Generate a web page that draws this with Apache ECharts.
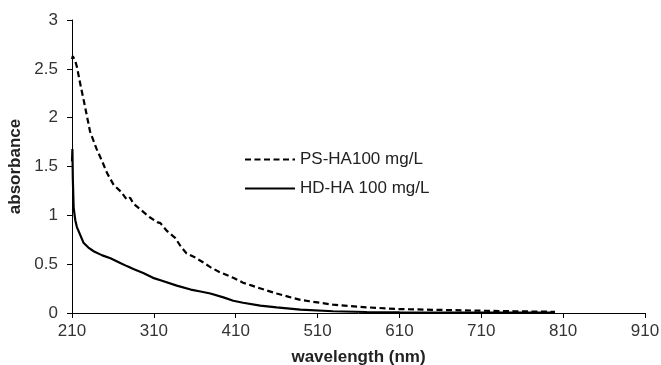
<!DOCTYPE html>
<html>
<head>
<meta charset="utf-8">
<script src="https://cdn.jsdelivr.net/npm/echarts@6/dist/echarts.min.js"></script>
<style>
  html, body { margin: 0; padding: 0; background: #fff; }
  #chart { width: 661px; height: 365px; }
</style>
</head>
<body>
<div id="chart"></div>
<script>
// wavelength (nm) and absorbance
var psWavelength = [210, 211, 214, 216, 220, 225, 232, 240, 247, 253, 261, 270, 277, 281, 285, 295, 305, 314, 318, 326, 336, 343, 350, 360, 370, 379, 390, 407, 419, 430, 448, 460, 475, 489, 500, 529, 550, 570, 610, 650, 700, 750, 800];
var psAbsorbance = [2.60, 2.63, 2.58, 2.52, 2.35, 2.15, 1.86, 1.68, 1.55, 1.43, 1.31, 1.24, 1.16, 1.18, 1.12, 1.05, 0.98, 0.93, 0.92, 0.84, 0.77, 0.68, 0.61, 0.57, 0.52, 0.47, 0.42, 0.36, 0.31, 0.28, 0.23, 0.20, 0.165, 0.135, 0.12, 0.085, 0.07, 0.058, 0.04, 0.033, 0.025, 0.018, 0.012];

var hdWavelength = [210, 210.5, 211, 212, 214, 216, 220, 224, 230, 237, 247, 257, 267, 277, 285, 297, 309, 320, 338, 355, 367, 379, 395, 407, 419, 440, 460, 489, 529, 570, 610, 700, 800];
var hdAbsorbance = [1.55, 1.68, 1.38, 1.08, 0.95, 0.88, 0.80, 0.72, 0.67, 0.63, 0.59, 0.56, 0.52, 0.48, 0.45, 0.41, 0.36, 0.33, 0.28, 0.24, 0.22, 0.20, 0.16, 0.125, 0.105, 0.075, 0.058, 0.035, 0.018, 0.01, 0.006, 0.004, 0.003];

var xStart = 210;   // first tick label
var xTicks = [210, 310, 410, 510, 610, 710, 810, 910];

// x axis runs from 0 so the 100 nm ticks line up; labels add the offset back
function toPairs(xs, ys) {
    return xs.map(function (x, i) { return [x - xStart, ys[i]]; });
}

var chart = echarts.init(document.getElementById('chart'));
var font = 'Liberation Sans, Arial, sans-serif';

var option = {
    animation: false,
    grid: { left: 72, right: 16, top: 20, bottom: 52, outerBoundsMode: 'none', containLabel: false },
    legend: {
        orient: 'vertical',
        left: 239,
        top: 146,
        itemWidth: 50,
        itemHeight: 14,
        itemGap: 12,
        itemStyle: { opacity: 0 },
        textStyle: { fontFamily: font, fontSize: 17, color: '#222' },
        data: ['PS-HA100 mg/L', 'HD-HA 100 mg/L']
    },
    xAxis: {
        type: 'value',
        min: 0,
        max: xTicks[xTicks.length - 1] - xStart,
        interval: 100,
        name: 'wavelength (nm)',
        nameLocation: 'middle',
        nameGap: 36,
        nameTextStyle: { fontFamily: font, fontSize: 17, fontWeight: 'bold', color: '#222' },
        axisLine: { lineStyle: { color: '#000', width: 1 } },
        axisTick: { show: true, length: 5, lineStyle: { color: '#000' } },
        axisLabel: {
            fontFamily: font, fontSize: 17, color: '#333', margin: 10,
            formatter: function (v) { return v + xStart; }
        },
        splitLine: { show: false }
    },
    yAxis: {
        type: 'value',
        min: 0,
        max: 3,
        interval: 0.5,
        name: 'absorbance',
        nameLocation: 'middle',
        nameGap: 44,
        nameTextStyle: { fontFamily: font, fontSize: 17, fontWeight: 'bold', color: '#222' },
        axisLine: { show: true, lineStyle: { color: '#000', width: 1 } },
        axisTick: { show: true, length: 5, lineStyle: { color: '#000' } },
        axisLabel: { fontFamily: font, fontSize: 17, color: '#333', margin: 14 },
        splitLine: { show: false }
    },
    series: [
        {
            name: 'PS-HA100 mg/L',
            type: 'line',
            symbol: 'none',
            data: toPairs(psWavelength, psAbsorbance),
            lineStyle: { color: '#000', width: 2.2, type: [6, 3.5] },
            itemStyle: { color: '#000' }
        },
        {
            name: 'HD-HA 100 mg/L',
            type: 'line',
            symbol: 'none',
            data: toPairs(hdWavelength, hdAbsorbance),
            lineStyle: { color: '#000', width: 2.2 },
            itemStyle: { color: '#000' }
        }
    ]
};

chart.setOption(option);
</script>
</body>
</html>
